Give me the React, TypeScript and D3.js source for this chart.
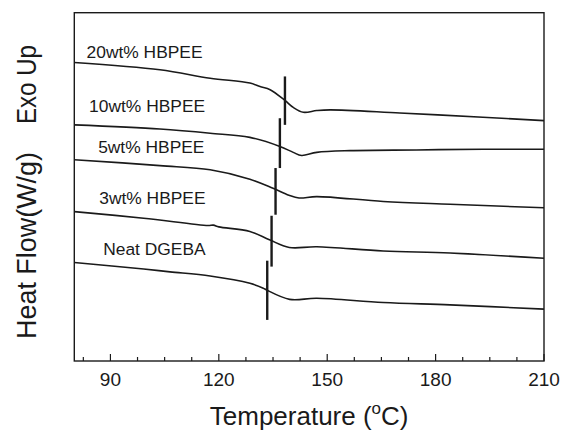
import React, { useRef, useEffect } from "react";
import * as d3 from "d3";

// temperature samples (°C) and heat flow (arbitrary offset units) per sample
const temp20 = [80, 103.7, 117.6, 128.6, 131.4, 134.2, 138.3, 140.6, 143.4, 147.1, 150.8, 170.1, 193.1, 210];
const flow20 = [8.57, 8.36, 8.12, 7.98, 7.88, 7.79, 7.48, 7.28, 7.14, 7.19, 7.21, 7.12, 7.0, 6.9];

const temp10 = [80, 103.7, 117.6, 128.6, 136.9, 140.6, 142.9, 147.1, 156.3, 174.7, 193.1, 210];
const flow10 = [6.78, 6.66, 6.54, 6.42, 6.16, 5.99, 5.9, 5.99, 6.04, 6.06, 6.08, 6.08];

const temp5 = [80, 103.7, 117.6, 128.6, 135.0, 139.4, 142.2, 147.1, 165.5, 184.0, 210];
const flow5 = [5.78, 5.61, 5.49, 5.22, 4.96, 4.76, 4.68, 4.72, 4.58, 4.5, 4.4];

const temp3 = [80, 99.2, 117.0, 118.5, 120.0, 128.6, 134.0, 139.5, 147.1, 165.5, 184.0, 210];
const flow3 = [4.29, 4.1, 3.89, 3.9, 3.85, 3.72, 3.48, 3.26, 3.28, 3.16, 3.1, 2.95];

const tempNeat = [80, 99.2, 106.5, 117.6, 128.6, 132.3, 133.2, 139.6, 147.1, 165.5, 184.0, 210];
const flowNeat = [2.83, 2.64, 2.56, 2.44, 2.23, 2.09, 2.04, 1.77, 1.8, 1.68, 1.61, 1.49];

const seriesNames = ["20wt% HBPEE", "10wt% HBPEE", "5wt% HBPEE", "3wt% HBPEE", "Neat DGEBA"];
const seriesTemps = [temp20, temp10, temp5, temp3, tempNeat];
const seriesFlows = [flow20, flow10, flow5, flow3, flowNeat];

// label anchors (temperature, heat flow of baseline)
const labelTemps = [83.4, 84.1, 86.6, 86.9, 88.0];
const labelFlows = [8.7, 7.16, 5.97, 4.51, 3.05];

// Tg markers: temperature, top and bottom heat flow
const tgTemps = [138.3, 136.9, 135.7, 134.6, 133.4];
const tgTops = [8.17, 6.97, 5.54, 4.17, 2.88];
const tgBottoms = [6.78, 5.54, 4.2, 2.71, 1.18];

const majorTicks = [90, 120, 150, 180, 210];

const App = () => {
  const ref = useRef(null);

  useEffect(() => {
    const width = 563;
    const height = 433;
    const left = 74.3;
    const right = 544;
    const top = 12.7;
    const bottom = 361;
    const font = "'Liberation Sans', Arial, sans-serif";
    const ink = "#1a1a1a";

    const svg = d3
      .select(ref.current)
      .append("svg")
      .attr("width", width)
      .attr("height", height)
      .style("position", "absolute")
      .style("left", "0px")
      .style("top", "0px")
      .style("background", "#fff");

    const x = d3.scaleLinear().domain([80, 210]).range([left, right]);
    const y = d3.scaleLinear().domain([0, 10]).range([bottom, top]);

    const line = d3
      .line()
      .x((d) => x(d[0]))
      .y((d) => y(d[1]))
      .curve(d3.curveCatmullRom.alpha(0.5));

    seriesTemps.forEach((ts, i) => {
      const pts = ts.map((t, j) => [t, seriesFlows[i][j]]);
      svg
        .append("path")
        .attr("d", line(pts))
        .attr("fill", "none")
        .attr("stroke", ink)
        .attr("stroke-width", 1.6);
    });

    tgTemps.forEach((t, i) => {
      svg
        .append("line")
        .attr("x1", x(t))
        .attr("x2", x(t))
        .attr("y1", y(tgTops[i]))
        .attr("y2", y(tgBottoms[i]))
        .attr("stroke", ink)
        .attr("stroke-width", 2.4);
    });

    seriesNames.forEach((name, i) => {
      svg
        .append("text")
        .attr("x", x(labelTemps[i]))
        .attr("y", y(labelFlows[i]))
        .attr("font-family", font)
        .attr("font-size", "17.4px")
        .attr("fill", ink)
        .text(name);
    });

    // frame
    svg
      .append("rect")
      .attr("x", left)
      .attr("y", top)
      .attr("width", right - left)
      .attr("height", bottom - top)
      .attr("fill", "none")
      .attr("stroke", ink)
      .attr("stroke-width", 1.4);

    // inward ticks
    const minorTicks = d3.range(82.5, 210, 7.5).filter((t) => !majorTicks.includes(t));
    svg
      .selectAll(".minor")
      .data(minorTicks)
      .enter()
      .append("line")
      .attr("x1", (d) => x(d))
      .attr("x2", (d) => x(d))
      .attr("y1", bottom)
      .attr("y2", bottom - 4)
      .attr("stroke", ink)
      .attr("stroke-width", 1.2);

    svg
      .selectAll(".major")
      .data(majorTicks)
      .enter()
      .append("line")
      .attr("x1", (d) => x(d))
      .attr("x2", (d) => x(d))
      .attr("y1", bottom)
      .attr("y2", bottom - 7)
      .attr("stroke", ink)
      .attr("stroke-width", 1.2);

    svg
      .selectAll(".ticklabel")
      .data(majorTicks)
      .enter()
      .append("text")
      .attr("x", (d) => x(d))
      .attr("y", 386)
      .attr("text-anchor", "middle")
      .attr("font-family", font)
      .attr("font-size", "19px")
      .attr("fill", ink)
      .text((d) => d);

    // x axis title
    const xt = svg
      .append("text")
      .attr("x", (left + right) / 2)
      .attr("y", 425)
      .attr("text-anchor", "middle")
      .attr("font-family", font)
      .attr("font-size", "26px")
      .attr("fill", ink);
    xt.append("tspan").text("Temperature (");
    xt.append("tspan").attr("font-size", "17px").attr("dy", -11).text("o");
    xt.append("tspan").attr("dy", 11).text("C)");

    // y axis title
    svg
      .append("text")
      .attr("transform", "translate(36,339) rotate(-90)")
      .attr("font-family", font)
      .attr("font-size", "27px")
      .attr("fill", ink)
      .attr("textLength", 187)
      .attr("lengthAdjust", "spacingAndGlyphs")
      .text("Heat Flow(W/g)");

    svg
      .append("text")
      .attr("transform", "translate(36,124) rotate(-90)")
      .attr("font-family", font)
      .attr("font-size", "27px")
      .attr("fill", ink)
      .attr("textLength", 79)
      .attr("lengthAdjust", "spacingAndGlyphs")
      .text("Exo Up");

    return () => {
      d3.select(ref.current).selectAll("*").remove();
    };
  }, []);

  return <div ref={ref}></div>;
};

export default App;
